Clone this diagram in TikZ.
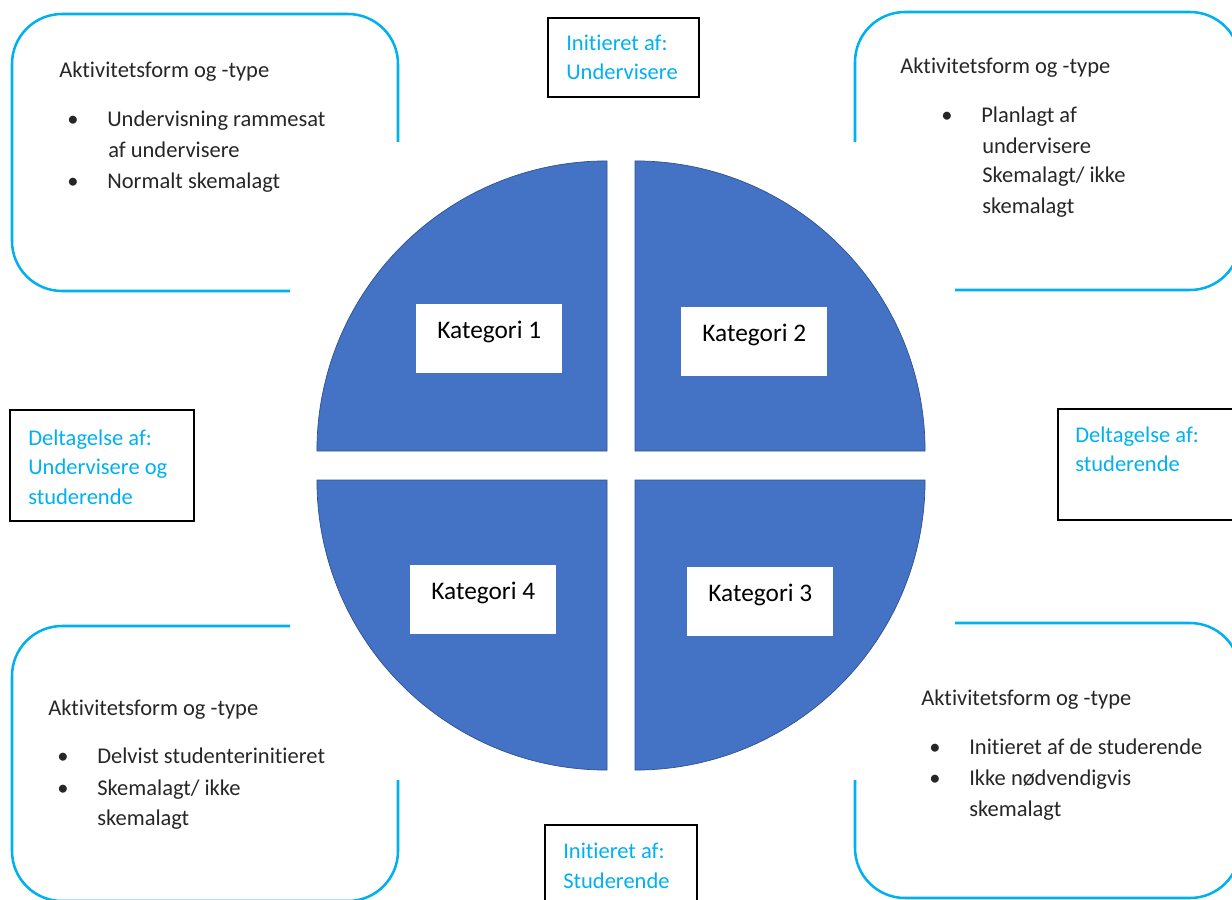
\documentclass[tikz,border=0pt]{standalone}
\usepackage{fontspec}
\setmainfont{Carlito}[Ligatures=NoCommon]
\usepackage{tikz}

\definecolor{ringblue}{RGB}{68,114,196}
\definecolor{ringedge}{RGB}{47,82,143}
\definecolor{lineblue}{RGB}{0,176,240}
\newcommand{\bul}{\makebox[1cm][l]{\textbullet}}

\begin{document}
\begin{tikzpicture}[x=0.025cm,y=0.025cm,
    panel/.style={draw=lineblue,line width=1.8pt,rounded corners=1.25cm},
    quarter/.style={fill=ringblue,draw=ringedge,line width=0.5pt},
    kbox/.style={fill=white,minimum width=3.65cm,inner sep=0pt,text height=0.85cm,text depth=0.875cm,anchor=north west,font=\fontsize{18}{21}\selectfont},
    frame/.style={draw=black,line width=2pt},
    head/.style={anchor=base west,inner sep=0pt,text=black!85,font=\fontsize{16}{22}\selectfont},
    who/.style={anchor=base west,inner sep=0pt,text=lineblue,font=\fontsize{16}{21}\selectfont}]
    \clip (0,0) rectangle (1232,-900);

    % open panels round the circle
    \draw[panel] (290,-291) -- (12,-291) -- (12,-14) -- (398,-14) -- (398,-142);
    \draw[panel] (955,-290) -- (1240,-290) -- (1240,-12) -- (855,-12) -- (855,-142);
    \draw[panel] (290,-626) -- (12,-626) -- (12,-901) -- (398,-901) -- (398,-780);
    \draw[panel] (955,-623) -- (1240,-623) -- (1240,-898) -- (855,-898) -- (855,-780);

    % the four quarters
    \draw[quarter] (607,-451) -- ++(-7.25cm,0) arc[start angle=180,end angle=90,radius=7.25cm] -- cycle;
    \draw[quarter] (635,-451) -- ++(7.25cm,0) arc[start angle=0,end angle=90,radius=7.25cm] -- cycle;
    \draw[quarter] (635,-480) -- ++(7.25cm,0) arc[start angle=0,end angle=-90,radius=7.25cm] -- cycle;
    \draw[quarter] (607,-480) -- ++(-7.25cm,0) arc[start angle=180,end angle=270,radius=7.25cm] -- cycle;

    \node[kbox] (kat1) at (416,-304) {Kategori 1};
    \node[kbox] (kat2) at (681,-307) {Kategori 2};
    \node[kbox] (kat3) at (687,-567) {Kategori 3};
    \node[kbox] (kat4) at (410,-565) {Kategori 4};

    % who initiates / takes part
    \draw[frame] (548,-18) rectangle (699,-97);
    \draw[frame] (10,-410) rectangle (194,-521);
    \draw[frame] (1058,-409) rectangle (1245,-520);
    \draw[frame] (545,-825) rectangle (697,-910);

    \node[who] (initu1) at (566,-51) {Initieret af:};
    \node[who] (initu2) at (566,-80) {Undervisere};
    \node[who] (delb1) at (28,-445) {Deltagelse af:};
    \node[who] (delb2) at (28,-474) {Undervisere og};
    \node[who] (delb3) at (28,-504) {studerende};
    \node[who] (dels1) at (1075,-442) {Deltagelse af:};
    \node[who] (dels2) at (1075,-471) {studerende};
    \node[who] (inits1) at (563,-858) {Initieret af:};
    \node[who] (inits2) at (563,-888) {Studerende};

    % activity texts
    \node[head] (tlhead) at (59,-78) {Aktivitetsform og -type};
    \node[head] (tla) at (67,-127) {\bul Undervisning rammesat};
    \node[head] (tlb) at (108,-158) {af undervisere};
    \node[head] (tlc) at (67,-188) {\bul Normalt skemalagt};

    \node[head] (trhead) at (900,-74) {Aktivitetsform og -type};
    \node[head] (tra) at (941,-122) {\bul Planlagt af};
    \node[head] (trb) at (982,-153) {undervisere};
    \node[head] (trc) at (982,-183) {Skemalagt/ ikke};
    \node[head] (trd) at (982,-214) {skemalagt};

    \node[head] (blhead) at (48,-715) {Aktivitetsform og -type};
    \node[head] (bla) at (57,-763) {\bul Delvist studenterinitieret};
    \node[head] (blb) at (57,-795) {\bul Skemalagt/ ikke};
    \node[head] (blc) at (97,-825) {skemalagt};

    \node[head] (brhead) at (921,-705) {Aktivitetsform og -type};
    \node[head] (bra) at (929,-754) {\bul Initieret af de studerende};
    \node[head] (brb) at (929,-785) {\bul Ikke nødvendigvis};
    \node[head] (brc) at (969,-816) {skemalagt};
\end{tikzpicture}
\end{document}
